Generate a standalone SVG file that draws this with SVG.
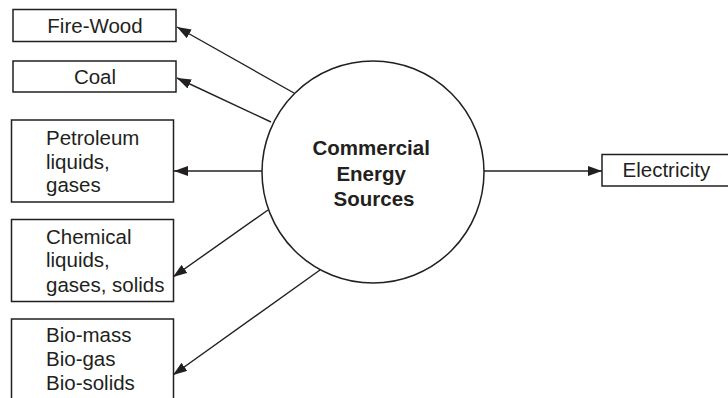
<svg xmlns="http://www.w3.org/2000/svg" width="728" height="398" viewBox="0 0 728 398">
  <style>
    .box { fill: #fff; stroke: #231f20; stroke-width: 1.5; }
    .lbl { font-family: "Liberation Sans", Arial, sans-serif; font-size: 20.5px; fill: #231f20; }
    .hub { font-family: "Liberation Sans", Arial, sans-serif; font-size: 20.5px; font-weight: bold; fill: #231f20; }
    .edge { stroke: #231f20; stroke-width: 1.4; fill: none; marker-end: url(#head); }
  </style>
  <defs>
    <marker id="head" viewBox="0 0 14 10" refX="14" refY="5" markerWidth="14" markerHeight="10" markerUnits="userSpaceOnUse" orient="auto">
      <path d="M0,0 L14,5 L0,10 z" fill="#231f20"/>
    </marker>
  </defs>
  <rect width="728" height="398" fill="#fff"/>

  <g id="connectors">
    <line class="edge" x1="294" y1="93" x2="177" y2="27"/>
    <line class="edge" x1="271" y1="122" x2="177" y2="78"/>
    <line class="edge" x1="262" y1="171" x2="174" y2="171"/>
    <line class="edge" x1="268" y1="210" x2="173" y2="277"/>
    <line class="edge" x1="320" y1="270" x2="173" y2="375"/>
    <line class="edge" x1="484" y1="171" x2="602" y2="171"/>
  </g>

  <g id="commercial-energy-sources">
    <circle cx="373" cy="172" r="111" fill="#fff" stroke="#231f20" stroke-width="1.5"/>
    <text class="hub" text-anchor="middle">
      <tspan x="374" y="155">Commercial</tspan>
      <tspan x="374" y="180.5">Energy</tspan>
      <tspan x="374" y="205.5">Sources</tspan>
    </text>
  </g>

  <g id="fire-wood">
    <rect class="box" x="13" y="9.5" width="163" height="32"/>
    <text class="lbl" x="95" y="33" text-anchor="middle">Fire-Wood</text>
  </g>

  <g id="coal">
    <rect class="box" x="13" y="61" width="163" height="31"/>
    <text class="lbl" x="95" y="83.5" text-anchor="middle">Coal</text>
  </g>

  <g id="petroleum">
    <rect class="box" x="11.5" y="120" width="162" height="82"/>
    <text class="lbl">
      <tspan x="46" y="144.5">Petroleum</tspan>
      <tspan x="46" y="168.5">liquids,</tspan>
      <tspan x="46" y="192">gases</tspan>
    </text>
  </g>

  <g id="chemical">
    <rect class="box" x="11.5" y="219.5" width="162" height="82"/>
    <text class="lbl">
      <tspan x="46" y="243.5">Chemical</tspan>
      <tspan x="46" y="267">liquids,</tspan>
      <tspan x="46" y="291.5">gases, solids</tspan>
    </text>
  </g>

  <g id="bio">
    <rect class="box" x="11.5" y="319" width="162" height="90"/>
    <text class="lbl">
      <tspan x="46" y="342">Bio-mass</tspan>
      <tspan x="46" y="366">Bio-gas</tspan>
      <tspan x="46" y="390">Bio-solids</tspan>
    </text>
  </g>

  <g id="electricity">
    <rect class="box" x="602" y="154.5" width="140" height="31.5"/>
    <text class="lbl" x="622.5" y="177">Electricity</text>
  </g>
</svg>
